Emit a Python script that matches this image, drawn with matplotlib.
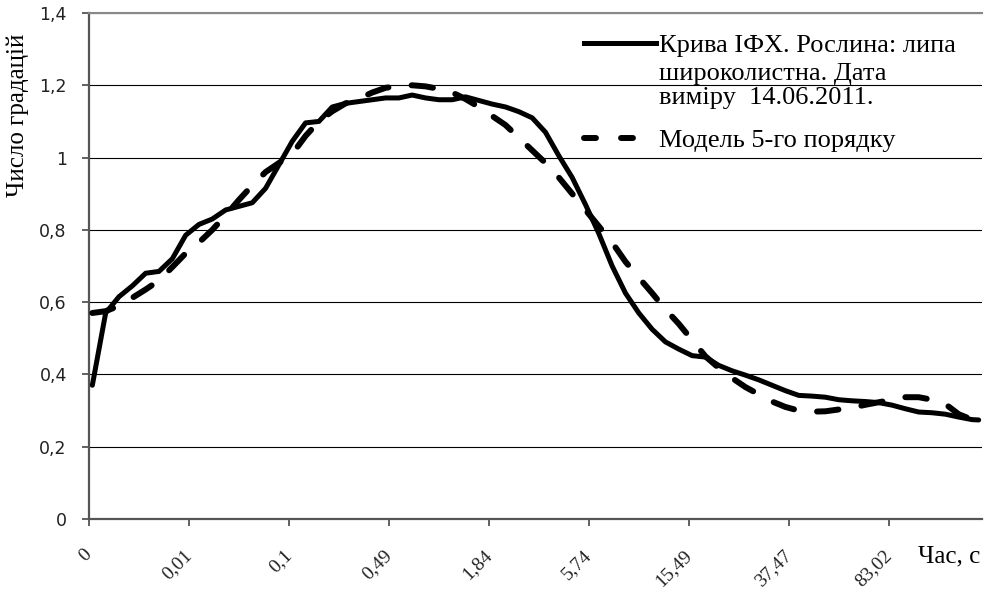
import matplotlib
matplotlib.use('Agg')
import matplotlib.pyplot as plt
from matplotlib.lines import Line2D

# category index of each reading (134 categories, label every 15th)
time_idx = list(range(0, 133, 2)) + [133]
tick_labels = ['0', '0,01', '0,1', '0,49', '1,84', '5,74', '15,49', '37,47', '83,02']
label_step = 15
n_categories = 134

# measured induction curve
curve_ifx = [0.37, 0.57, 0.615, 0.645, 0.68, 0.685, 0.72, 0.785, 0.815, 0.83,
             0.855, 0.865, 0.875, 0.915, 0.98, 1.045, 1.096, 1.10, 1.14, 1.15,
             1.155, 1.16, 1.165, 1.165, 1.173, 1.165, 1.16, 1.16, 1.168, 1.158,
             1.148, 1.14, 1.127, 1.11, 1.07, 1.005, 0.945, 0.87, 0.79, 0.70,
             0.625, 0.57, 0.525, 0.49, 0.47, 0.452, 0.448, 0.425, 0.41, 0.398,
             0.385, 0.37, 0.355, 0.342, 0.34, 0.337, 0.33, 0.327, 0.325, 0.322,
             0.315, 0.305, 0.296, 0.294, 0.29, 0.282, 0.275, 0.274]

# 5th order model
model_5 = [0.57, 0.575, 0.59, 0.612, 0.635, 0.66, 0.697, 0.735, 0.765, 0.80,
           0.84, 0.883, 0.923, 0.96, 0.985, 1.01, 1.06, 1.10, 1.128, 1.15,
           1.163, 1.18, 1.193, 1.198, 1.20, 1.197, 1.19, 1.18, 1.162, 1.14,
           1.115, 1.09, 1.055, 1.02, 0.985, 0.945, 0.90, 0.855, 0.81, 0.765,
           0.712, 0.668, 0.625, 0.58, 0.54, 0.495, 0.45, 0.418, 0.39, 0.365,
           0.345, 0.325, 0.31, 0.30, 0.297, 0.298, 0.303, 0.308, 0.316, 0.323,
           0.33, 0.337, 0.337, 0.33, 0.318, 0.29, 0.275, 0.272]

serif = ['Liberation Serif', 'DejaVu Serif']

fig = plt.figure(figsize=(9.84, 5.92), dpi=100)
ax = fig.add_axes([89 / 984, 73 / 592, 893 / 984, 506 / 592])

ax.plot(time_idx, curve_ifx, color='black', lw=3.6, solid_joinstyle='round',
        solid_capstyle='round', zorder=3)
ax.plot(time_idx, model_5, color='black', lw=4.3, linestyle=(0, (3.6, 3.9)),
        dash_capstyle='round', dash_joinstyle='round', zorder=4)

ax.set_xlim(-0.5, n_categories - 0.5)
ax.set_ylim(0, 1.4)

ax.set_yticks([0, 0.2, 0.4, 0.6, 0.8, 1.0, 1.2, 1.4])
ax.set_yticklabels(['0', '0,2', '0,4', '0,6', '0,8', '1', '1,2', '1,4'],
                   fontsize=12.5, color='#222222')
ax.yaxis.grid(True, color='black', lw=0.8)
ax.set_axisbelow(True)

xt = [k * label_step - 0.5 for k in range(len(tick_labels))]
ax.set_xticks(xt)
ax.set_xticklabels(tick_labels, rotation=45, ha='right', va='center',
                   rotation_mode='anchor', fontsize=14, color='#222222',
                   family=serif)
for lbl in ax.get_xticklabels():
    lbl.set_x(lbl.get_position()[0])

ax.tick_params(axis='y', direction='out', length=5, width=1.3, color='#555555', pad=11)
ax.tick_params(axis='x', direction='out', length=5, width=1.3, color='#555555', pad=19)

for side in ['left', 'bottom']:
    ax.spines[side].set_color('#555555')
    ax.spines[side].set_linewidth(1.6)
ax.spines['top'].set_color('#888888')
ax.spines['top'].set_linewidth(1.5)
ax.spines['right'].set_visible(False)

fig.text(18 / 984, 1 - 115 / 592, 'Число градацій', rotation=90, ha='center',
         va='center', fontsize=18, family=serif)
fig.text(980 / 984, 1 - 556 / 592, 'Час, с', ha='right', va='center',
         fontsize=18, family=serif)

# legend: measured curve (three lines of text, handle on the first)
leg_style = dict(loc='upper left', bbox_transform=fig.transFigure, frameon=False,
                 handlelength=2.73, handletextpad=0.11, labelspacing=0.21,
                 borderpad=0, borderaxespad=0,
                 prop={'family': serif, 'size': 19})
leg1 = ax.legend([Line2D([], [], color='black', lw=3.6),
                  Line2D([], [], linestyle='none')],
                 ['Крива ІФХ. Рослина: липа',
                  'широколистна. Дата\nвиміру  14.06.2011.'],
                 bbox_to_anchor=(584 / 984, 1 - 34 / 592), **leg_style)
for t in leg1.get_texts():
    t.set_linespacing(1.1)
ax.add_artist(leg1)

ax.legend([Line2D([], [], color='black', lw=4.3, linestyle=(0, (2.0, 4.2)),
                  dash_capstyle='round')],
          ['Модель 5-го порядку'],
          bbox_to_anchor=(584 / 984, 1 - 128.5 / 592), **leg_style)

fig.savefig('out.png', dpi=100)
